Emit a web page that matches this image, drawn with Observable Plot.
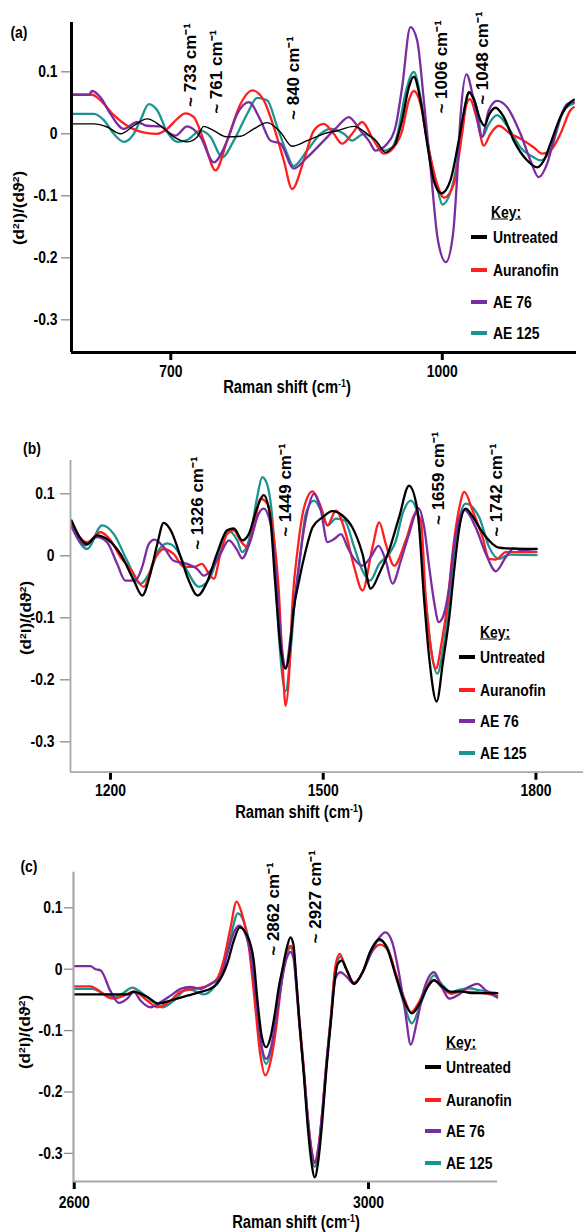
<!DOCTYPE html>
<html><head><meta charset="utf-8">
<script src="https://cdn.jsdelivr.net/npm/d3@7"></script>
<script src="https://cdn.jsdelivr.net/npm/@observablehq/plot@0.6"></script>
<style>
html,body{margin:0;padding:0;background:#fff;overflow:hidden}
#root{position:relative;width:584px;height:1232px;font-family:"Liberation Sans",Arial,sans-serif;font-weight:bold;color:#000}
.abs{position:absolute;white-space:nowrap;line-height:1}
.panel{position:absolute;left:0}
sup{font-size:60%;vertical-align:0.55em;line-height:0}
</style></head><body><div id="root"></div>
<script>
// ---------- series ----------
const seriesNames = ["Untreated", "Auranofin", "AE 76", "AE 125"];
const seriesColors = ["#000000", "#ff1f1f", "#7b2ca0", "#1a948e"];
const drawOrder = [3, 1, 2, 0];

const yTicks = [0.1, 0, -0.1, -0.2, -0.3];
const aTicksX = [700, 1000];
const bTicksX = [1200, 1500, 1800];
const cTicksX = [2600, 3000];

// ---------- panel (a) ----------
const aUntreated = [[591,0.016],[615,0.016],[629.7,0.011],[644.4,0.0],[659.1,0.013],[673.9,0.024],[688.6,0.013],[703.3,-0.005],[718.1,-0.013],[729.2,-0.005],[736.5,0.012],[747.5,0.005],[762.3,-0.005],[777,-0.004],[791.7,0.008],[806.5,0.018],[821,0.003],[834,-0.02],[850.7,-0.011],[869,0.0],[883.8,0.005],[902.2,0.012],[917,0.0],[928,-0.013],[937.2,-0.03],[948.3,-0.016],[955.6,0.022],[963,0.075],[968.5,0.092],[975.9,0.054],[983.3,-0.016],[990.6,-0.075],[999,-0.096],[1009,-0.075],[1018.2,-0.011],[1025.6,0.048],[1029.3,0.067],[1034.8,0.056],[1042.2,0.022],[1046.6,0.013],[1051.4,0.03],[1058.8,0.042],[1068,0.027],[1079,-0.011],[1093.8,-0.043],[1104.8,-0.054],[1112.2,-0.043],[1119.5,-0.016],[1130.6,0.027],[1141.6,0.051],[1145.3,0.055]];
const aAuranofin = [[591,0.063],[613,0.063],[622.3,0.054],[637,0.03],[651.8,0.013],[662.9,0.005],[673.9,0.001],[685,0.0],[696,0.008],[707.1,0.024],[716.2,0.033],[725.4,0.027],[736.5,-0.011],[749.4,-0.059],[762.3,-0.011],[777,0.048],[789.9,0.07],[802.8,0.054],[813.8,0.011],[824.9,-0.043],[834.1,-0.089],[847,-0.043],[858,0.005],[869.1,0.016],[880.1,0.0],[889.3,-0.016],[900.4,0.0],[911.4,0.019],[924.3,-0.011],[935.4,-0.032],[946.4,-0.022],[955.6,0.005],[963,0.054],[968.5,0.069],[975.9,0.048],[983.3,-0.011],[994.3,-0.081],[1002,-0.103],[1012.7,-0.081],[1021.9,0.0],[1026.7,0.048],[1030.4,0.056],[1038.5,0.022],[1045.9,-0.019],[1053.2,0.0],[1062.4,0.013],[1075.3,0.0],[1086.4,-0.008],[1101.1,-0.022],[1110.3,-0.032],[1119.5,-0.027],[1130.6,0.0],[1141.6,0.038],[1145.3,0.043]];
const aAE76 = [[591,0.063],[609.4,0.063],[613.1,0.069],[622.3,0.059],[633.4,0.032],[648.1,0.008],[662.9,0.019],[673.9,0.013],[688.6,0.012],[699.7,0.0],[705.2,-0.003],[718.1,0.012],[732.8,-0.005],[747.5,-0.046],[762.3,-0.011],[773.4,0.032],[786.2,0.051],[799.1,0.022],[810.2,-0.011],[821.2,-0.016],[835.9,-0.056],[850.7,-0.038],[869.1,-0.011],[883.8,0.011],[896.7,0.027],[909.6,0.005],[918.8,-0.011],[926.2,-0.027],[939.1,-0.016],[948.3,0.011],[955.6,0.075],[964.8,0.172],[972.2,0.151],[979.6,0.054],[987,-0.054],[995,-0.17],[1004,-0.207],[1012,-0.16],[1016,-0.08],[1020.1,0.027],[1026.7,0.096],[1034.8,0.054],[1044,-0.005],[1051.4,0.038],[1060.6,0.053],[1071.6,0.043],[1086.4,0.0],[1097.4,-0.043],[1106.6,-0.07],[1115.9,-0.048],[1126.9,0.011],[1138,0.048],[1145.3,0.051]];
const aAE125 = [[591,0.032],[615,0.032],[626,0.022],[637,0.0],[648.1,-0.013],[659.1,0.0],[666.5,0.022],[675.7,0.048],[685,0.038],[696,0.003],[707.1,-0.013],[718.1,-0.01],[732.8,0.005],[743.9,-0.005],[756.8,-0.038],[769.6,-0.011],[784.4,0.032],[795.5,0.058],[806.5,0.054],[817.6,0.011],[828.6,-0.032],[835.5,-0.052],[850.7,-0.027],[865.4,0.0],[876.5,0.008],[891.2,0.0],[900.4,-0.011],[913.3,0.0],[924.3,-0.008],[935.4,-0.027],[944.6,-0.022],[950.1,-0.003],[959.3,0.065],[968.5,0.1],[975.9,0.059],[983.3,-0.011],[994.3,-0.086],[1000,-0.114],[1012.7,-0.075],[1021.9,0.011],[1027.5,0.062],[1030.4,0.067],[1038.5,0.038],[1044,-0.005],[1051.4,0.016],[1060.6,0.03],[1071.6,0.013],[1086.4,-0.022],[1101.1,-0.038],[1108.5,-0.043],[1119.5,-0.027],[1134.3,0.038],[1145.3,0.049]];
const aAnnotText = ["~ 733 cm⁻¹", "~ 761 cm⁻¹", "~ 840 cm⁻¹", "~ 1006 cm⁻¹", "~ 1048 cm⁻¹"];
const aAnnotX = [721.8, 750.5, 835.6, 999.1, 1045];
const aAnnotY = [0.111, 0.1, 0.09, 0.108, 0.122];

// ---------- panel (b) ----------
const bUntreated = [[1145,0.057],[1167,0.019],[1181,0.033],[1195,0.027],[1214,0.003],[1233,-0.04],[1244.7,-0.064],[1256,-0.03],[1266,0.019],[1275,0.053],[1285,0.041],[1299,-0.002],[1310.5,-0.04],[1323,-0.064],[1336,-0.043],[1350,0.003],[1364.5,0.041],[1374,0.044],[1386,0.025],[1395,0.035],[1407,0.078],[1416,0.098],[1425,0.065],[1432,-0.04],[1440,-0.15],[1447,-0.182],[1453,-0.15],[1458,-0.09],[1466,-0.04],[1475.5,0.009],[1485,0.046],[1499,0.062],[1513,0.072],[1527,0.065],[1541,0.046],[1555.4,0.003],[1567,-0.053],[1579,-0.029],[1593,0.009],[1607,0.062],[1621,0.113],[1633,0.073],[1642.4,-0.072],[1650,-0.17],[1660,-0.235],[1669,-0.17],[1677.7,-0.1],[1685,-0.02],[1692,0.045],[1701,0.076],[1710,0.065],[1720,0.046],[1730,0.03],[1739,0.019],[1748,0.013],[1757.6,0.012],[1801,0.011]];
const bAuranofin = [[1145,0.052],[1167,0.022],[1186,0.038],[1200,0.025],[1214,-0.002],[1228,-0.021],[1247,-0.05],[1261,-0.008],[1275,0.011],[1289,0.003],[1303.4,-0.018],[1317.5,-0.018],[1329,-0.013],[1338.7,-0.029],[1345.7,-0.037],[1355,0.003],[1364.5,0.035],[1374,0.041],[1383,0.025],[1392.8,0.014],[1402,0.046],[1411.6,0.092],[1421,0.084],[1430,0.035],[1437,-0.05],[1443,-0.18],[1447,-0.242],[1452,-0.19],[1456.7,-0.075],[1463.8,0.009],[1473,0.078],[1485,0.104],[1497,0.078],[1506,0.049],[1518,0.073],[1532,0.035],[1543.7,-0.018],[1555.4,-0.056],[1569.5,0.014],[1579,0.054],[1588.3,0.019],[1600,-0.016],[1616.6,0.025],[1630.7,0.068],[1637.7,0.057],[1644.8,-0.072],[1652,-0.15],[1659,-0.182],[1667,-0.14],[1676,-0.07],[1682,0.0],[1691.8,0.077],[1699,0.103],[1710.6,0.073],[1724.7,0.03],[1734,-0.005],[1743.5,-0.006],[1757.6,0.006],[1801,0.006]];
const bAE76 = [[1145,0.047],[1164.7,0.017],[1181,0.03],[1195,0.022],[1209.4,-0.013],[1221,-0.04],[1235,-0.04],[1244.7,-0.018],[1254,0.019],[1262,0.026],[1275,0.014],[1289,-0.008],[1308,-0.013],[1322,-0.021],[1331.6,-0.032],[1341,-0.024],[1355,0.003],[1367,0.025],[1378.7,0.009],[1385.7,-0.004],[1397.5,0.025],[1409,0.068],[1416,0.076],[1425.7,0.052],[1435,-0.05],[1441,-0.14],[1447,-0.18],[1454,-0.13],[1461,-0.06],[1468.5,0.01],[1478,0.073],[1487,0.1],[1496.7,0.073],[1506,0.022],[1515.5,0.027],[1525,0.035],[1534.3,0.014],[1543.7,-0.005],[1555.4,-0.016],[1567,-0.002],[1578,0.016],[1588.3,-0.008],[1597.7,-0.045],[1609.5,-0.008],[1621,0.035],[1634.4,0.077],[1642.4,0.046],[1649.5,-0.018],[1656.5,-0.075],[1663,-0.107],[1670,-0.095],[1677.7,-0.05],[1685,0.02],[1692,0.06],[1699,0.074],[1715,0.046],[1729.4,0.003],[1743.5,-0.025],[1757.6,-0.002],[1769,0.012],[1781,0.009],[1801,0.011]];
const bAE125 = [[1145,0.049],[1167,0.011],[1188,0.049],[1204.7,0.035],[1223.5,-0.008],[1242,-0.045],[1256.4,-0.024],[1268,0.009],[1280,0.02],[1294,0.009],[1308,-0.024],[1324.6,-0.05],[1341,-0.034],[1355,0.014],[1364.5,0.041],[1378.7,0.025],[1385.7,0.006],[1397.5,0.035],[1406.9,0.095],[1414,0.127],[1421,0.115],[1430,0.035],[1437,-0.12],[1447,-0.218],[1455,-0.14],[1460,-0.07],[1466,-0.018],[1475.5,0.068],[1487,0.089],[1499,0.068],[1506,0.049],[1518,0.06],[1530,0.057],[1543.7,0.014],[1555.4,-0.024],[1566,-0.04],[1579,-0.013],[1593,0.003],[1602.5,0.024],[1612,0.068],[1623.6,0.089],[1633,0.068],[1644.8,-0.072],[1652,-0.15],[1661,-0.19],[1669,-0.15],[1677,-0.08],[1684,0.0],[1692,0.06],[1701,0.084],[1720,0.062],[1734,0.014],[1748,-0.005],[1762,0.002],[1801,0.001]];
const bAnnotText = ["~ 1326 cm⁻¹", "~ 1449 cm⁻¹", "~ 1659 cm⁻¹", "~ 1742 cm⁻¹"];
const bAnnotX = [1323.4, 1446.8, 1662.6, 1744.4];
const bAnnotY = [0.085, 0.106, 0.125, 0.106];

// ---------- panel (c) ----------
const cUntreated = [[2600,-0.041],[2672,-0.041],[2681,-0.037],[2699,-0.045],[2715,-0.056],[2731,-0.051],[2753.6,-0.043],[2771.7,-0.037],[2785,-0.032],[2794,-0.024],[2808,0.009],[2817,0.047],[2825,0.068],[2835,0.055],[2844,0.014],[2849,-0.05],[2855,-0.11],[2861,-0.127],[2867,-0.11],[2873,-0.07],[2878,-0.03],[2883,0.0],[2889,0.035],[2894,0.052],[2898,0.04],[2902,-0.02],[2906,-0.084],[2912,-0.17],[2917,-0.25],[2922,-0.31],[2927,-0.339],[2932,-0.31],[2937,-0.25],[2943,-0.16],[2949,-0.084],[2954,-0.02],[2958,0.008],[2963.8,0.014],[2970,0.0],[2980.5,-0.024],[2992,-0.005],[3003,0.03],[3014.5,0.049],[3025,0.035],[3037,-0.01],[3048,-0.05],[3059,-0.072],[3070,-0.055],[3080,-0.03],[3089,-0.018],[3100,-0.028],[3112,-0.037],[3125,-0.036],[3140,-0.039],[3175,-0.039]];
const cAuranofin = [[2600,-0.028],[2622,-0.028],[2631,-0.033],[2645,-0.045],[2654,-0.048],[2667.5,-0.043],[2681,-0.036],[2699,-0.051],[2713,-0.062],[2726,-0.056],[2744.5,-0.037],[2762.7,-0.032],[2781,-0.027],[2794,-0.016],[2803,0.014],[2812.5,0.068],[2820.7,0.11],[2828,0.09],[2837.4,0.036],[2846,-0.06],[2853,-0.14],[2860,-0.173],[2867,-0.15],[2874,-0.1],[2880,-0.04],[2887,0.02],[2894,0.038],[2898,0.03],[2902,-0.02],[2906,-0.08],[2912,-0.16],[2917,-0.235],[2922,-0.29],[2927,-0.316],[2932,-0.29],[2937,-0.235],[2943,-0.15],[2949,-0.075],[2955,0.005],[2961,0.025],[2968,0.005],[2980.5,-0.022],[2992,-0.005],[3003,0.025],[3016,0.04],[3027,0.03],[3038,-0.01],[3048,-0.045],[3058,-0.07],[3068,-0.055],[3078,-0.03],[3089,-0.018],[3100,-0.03],[3112,-0.04],[3125,-0.037],[3138,-0.037],[3150,-0.038],[3175,-0.043]];
const cAE76 = [[2600,0.005],[2622,0.005],[2629,0.0],[2636,-0.002],[2649,-0.035],[2660.7,-0.055],[2672,-0.048],[2681,-0.037],[2690,-0.051],[2703.8,-0.062],[2717,-0.054],[2731,-0.043],[2744.5,-0.032],[2758,-0.029],[2771.7,-0.032],[2785,-0.024],[2799,-0.013],[2808,0.025],[2817,0.06],[2824,0.071],[2830.6,0.063],[2839.7,0.025],[2847,-0.045],[2854,-0.12],[2861,-0.146],[2868,-0.125],[2875,-0.075],[2882,-0.02],[2888,0.015],[2894,0.028],[2898,0.018],[2902,-0.03],[2906,-0.09],[2912,-0.165],[2917,-0.235],[2922,-0.29],[2927,-0.314],[2932,-0.29],[2937,-0.235],[2943,-0.15],[2949,-0.08],[2955,-0.015],[2962,-0.005],[2970,-0.012],[2980.5,-0.024],[2992,-0.005],[3005,0.03],[3015,0.052],[3023,0.06],[3032,0.045],[3042,-0.01],[3050,-0.07],[3057.5,-0.123],[3065,-0.09],[3075,-0.035],[3089,-0.005],[3100,-0.03],[3110,-0.048],[3122,-0.042],[3135,-0.03],[3148,-0.024],[3160,-0.035],[3175,-0.046]];
const cAE125 = [[2600,-0.032],[2625,-0.032],[2640,-0.04],[2654,-0.045],[2665,-0.04],[2679,-0.03],[2690,-0.037],[2708,-0.054],[2719.6,-0.062],[2735.5,-0.051],[2753.6,-0.032],[2767,-0.037],[2776,-0.041],[2790,-0.029],[2803,0.003],[2812.5,0.052],[2822.5,0.091],[2830.6,0.077],[2839.7,0.03],[2847,-0.05],[2854,-0.125],[2861,-0.154],[2868,-0.13],[2875,-0.08],[2881,-0.025],[2888,0.02],[2894,0.035],[2898,0.025],[2902,-0.025],[2906,-0.085],[2912,-0.165],[2917,-0.24],[2922,-0.3],[2927,-0.322],[2932,-0.3],[2937,-0.24],[2943,-0.155],[2949,-0.08],[2955,0.0],[2962,0.02],[2970,0.0],[2980.5,-0.024],[2992,-0.005],[3003,0.03],[3015,0.047],[3026,0.035],[3037,-0.01],[3048,-0.055],[3059,-0.088],[3070,-0.06],[3080,-0.028],[3089,-0.01],[3100,-0.025],[3112,-0.037],[3125,-0.033],[3137,-0.031],[3150,-0.034],[3175,-0.039]];
const cAnnotText = ["~ 2862 cm⁻¹", "~ 2927 cm⁻¹"];
const cAnnotX = [2871.6, 2928.7];
const cAnnotY = [0.098, 0.118];

// ---------- layout ----------
const FONT = '"Liberation Sans", Arial, sans-serif';
const SQ = 0.82; // horizontal squeeze of the original figure text
const panels = [
  {tag: "(a)", top: 0, height: 398, mt: 22, mb: 46, ml: 71, mr: 8,
   xDomain: [590.3, 1148.3], yDomain: [-0.3527, 0.1795], xTicks: aTicksX,
   data: [aUntreated, aAuranofin, aAE76, aAE125],
   annot: [aAnnotText, aAnnotX, aAnnotY], thin: {series: 0, until: 950},
   axisStroke: "#000", axisWidth: 3, yTickSize: 10, yTickPad: 4, xTickSize: 8, xTickPad: 4,
   tagPos: [18.5, 31.5], yLabPos: [19, 207.5], titlePos: [286.5, 386.7],
   keyPos: [490.6, 211.7], swatchX: 471, textX: 492.5, rows: [237.3, 270, 301.7, 332.7]},
  {tag: "(b)", top: 398, height: 428, mt: 62, mb: 54.3, ml: 70, mr: 1,
   xDomain: [1143.6, 1867.1], yDomain: [-0.349, 0.1537], xTicks: bTicksX,
   data: [bUntreated, bAuranofin, bAE76, bAE125],
   annot: [bAnnotText, bAnnotX, bAnnotY], thin: null,
   axisStroke: "#a8a8a8", axisWidth: 1.8, yTickSize: 10, yTickPad: 6, xTickSize: 8, xTickPad: 4,
   tagPos: [31.5, 447.5], yLabPos: [26, 617.5], titlePos: [298.5, 811.7],
   keyPos: [480, 632], swatchX: 458.7, textX: 480.3, rows: [657.3, 690, 720.7, 753.3]},
  {tag: "(c)", top: 826, height: 406, mt: 45.7, mb: 51, ml: 73, mr: 87,
   xDomain: [2599, 3175.4], yDomain: [-0.3458, 0.158], xTicks: cTicksX,
   data: [cUntreated, cAuranofin, cAE76, cAE125],
   annot: [cAnnotText, cAnnotX, cAnnotY], thin: null,
   axisStroke: "#a8a8a8", axisWidth: 2.2, yTickSize: 9, yTickPad: 2, xTickSize: 8, xTickPad: 6,
   tagPos: [29, 865.5], yLabPos: [25, 1032], titlePos: [296, 1221.7],
   keyPos: [446, 1041.7], swatchX: 424.7, textX: 446, rows: [1067.3, 1100, 1131, 1163.3]}
];

const root = document.getElementById("root");

function addText(html, x, y, {anchor = "middle", rotate = false, underline = false, size = 17} = {}) {
  const d = document.createElement("div");
  d.className = "abs";
  d.innerHTML = html;
  d.style.fontSize = size + "px";
  d.style.left = x + "px";
  d.style.top = y + "px";
  if (underline) d.style.textDecoration = "underline";
  if (rotate) {
    d.style.transform = `translate(-50%,-50%) rotate(-90deg) scaleY(${SQ})`;
  } else {
    const tx = anchor === "start" ? "0" : anchor === "end" ? "-100%" : "-50%";
    d.style.transformOrigin = anchor === "start" ? "left center" : anchor === "end" ? "right center" : "center center";
    d.style.transform = `translate(${tx},-50%) scaleX(${SQ})`;
  }
  root.appendChild(d);
  return d;
}

const fmtY = d => d === 0 ? "0" : d.toFixed(1);

panels.forEach(p => {
  const thick = [], thin = [];
  drawOrder.forEach(si => {
    const pts = p.data[si];
    if (p.thin && p.thin.series === si) {
      const a = pts.filter(d => d[0] <= p.thin.until);
      const lastX = a[a.length - 1][0];
      a.forEach(([x, y]) => thin.push({s: seriesNames[si], x, y}));
      pts.filter(d => d[0] >= lastX).forEach(([x, y]) => thick.push({s: seriesNames[si], x, y}));
    } else {
      pts.forEach(([x, y]) => thick.push({s: seriesNames[si], x, y}));
    }
  });
  const ann = p.annot[0].map((t, i) => ({t, x: p.annot[1][i], y: p.annot[2][i]}));
  const chart = Plot.plot({
    width: 584, height: p.height,
    marginTop: p.mt, marginBottom: p.mb, marginLeft: p.ml, marginRight: p.mr,
    x: {domain: p.xDomain},
    y: {domain: p.yDomain},
    color: {domain: seriesNames, range: seriesColors},
    style: {fontFamily: FONT, fontSize: "17px", fontWeight: "bold", color: "#000", background: "transparent", overflow: "visible"},
    marks: [
      Plot.axisY({ticks: yTicks, tickSize: p.yTickSize, tickPadding: p.yTickPad, stroke: "#8a8a8a", strokeWidth: 1.3, tickFormat: fmtY, label: null, fill: "#000"}),
      Plot.axisX({ticks: p.xTicks, tickSize: p.xTickSize, tickPadding: p.xTickPad, stroke: "#000", strokeWidth: 3, tickFormat: d => String(d), label: null, fill: "#000"}),
      Plot.line(thick, {x: "x", y: "y", z: "s", stroke: "s", strokeWidth: 2.3, curve: "monotone-x"}),
      Plot.line(thin, {x: "x", y: "y", z: "s", stroke: "s", strokeWidth: 1.4, curve: "monotone-x"}),
      Plot.ruleX([p.xDomain[0]], {stroke: p.axisStroke, strokeWidth: p.axisWidth}),
      Plot.ruleY([p.yDomain[0]], {stroke: p.axisStroke, strokeWidth: p.axisWidth}),
      Plot.text(ann, {x: "x", y: "y", text: "t", rotate: -90, fontSize: 17, fontWeight: "bold", fill: "#000", textAnchor: "middle"})
    ]
  });
  // squeeze horizontal tick labels like the original figure
  chart.querySelectorAll('g[aria-label$="tick label"] text').forEach(t => {
    const tr = t.getAttribute("transform") || "";
    const x = +(t.getAttribute("x") || 0);
    t.setAttribute("transform", `${tr} translate(${x},0) scale(${SQ},1) translate(${-x},0)`);
  });
  const holder = document.createElement("div");
  holder.className = "panel";
  holder.style.top = p.top + "px";
  holder.appendChild(chart);
  root.appendChild(holder);

  addText(p.tag, p.tagPos[0], p.tagPos[1]);
  addText("(d<sup>2</sup>I)/(dϑ<sup>2</sup>)", p.yLabPos[0], p.yLabPos[1], {rotate: true});
  addText("Raman shift (cm<sup>-1</sup>)", p.titlePos[0], p.titlePos[1], {size: 18});
  addText("Key:", p.keyPos[0], p.keyPos[1], {anchor: "start", underline: true});
  seriesNames.forEach((name, i) => {
    const sw = document.createElement("div");
    sw.className = "abs";
    sw.style.left = p.swatchX + "px";
    sw.style.top = (p.rows[i] - 2) + "px";
    sw.style.width = "16px";
    sw.style.height = "4px";
    sw.style.background = seriesColors[i];
    root.appendChild(sw);
    addText(name, p.textX, p.rows[i], {anchor: "start"});
  });
});
</script></body></html>
